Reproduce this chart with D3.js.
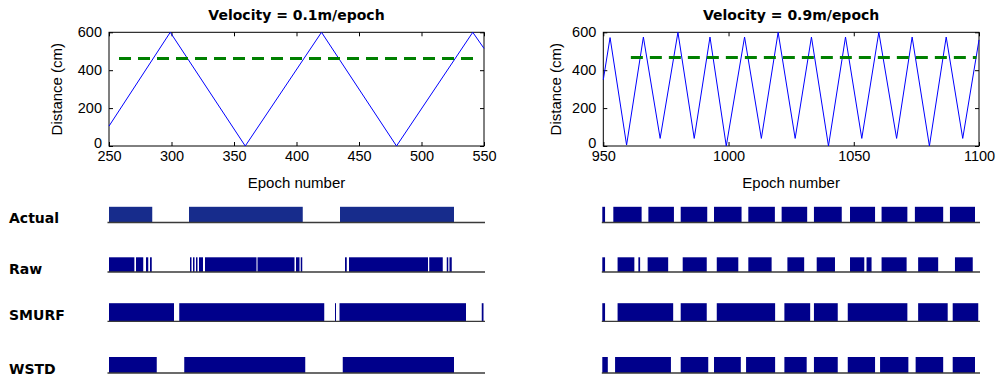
<!DOCTYPE html>
<html>
<head>
<meta charset="utf-8">
<script src="https://cdn.jsdelivr.net/npm/d3@7"></script>
<style>
  body { margin: 0; background: #fff; }
  .tick text { font-family: "Liberation Sans", Arial, sans-serif; font-size: 14.5px; fill: #000; }
  .tick line { stroke: #000; }
  .domain { display: none; }
</style>
</head>
<body>
<div id="chart-area"></div>
<script>

// ---- data ----
var slowEpochs   = [250, 299, 359, 420, 480, 541, 550];
var slowDistance = [105, 600, 0, 600, 0, 600, 515];

var fastEpochs   = [950, 952.7, 959.3, 966, 972.7, 979.8, 986.3, 992.6, 999.1, 1006.4, 1013.1, 1019.8,
                    1026.6, 1033.1, 1039.9, 1046.7, 1053.2, 1060, 1067.1, 1073.3, 1080.2, 1086.9, 1093.5, 1100];
var fastDistance = [350, 572, 5, 575, 40, 600, 40, 575, 0, 575, 40, 600,
                    40, 575, 0, 575, 40, 600, 40, 575, 0, 575, 40, 560];

// threshold (dashed green) - [start epoch, end epoch], value
var slowThreshold = [258, 545], slowThresholdValue = 462;
var fastThreshold = [961, 1099], fastThresholdValue = 467;

var distanceTicks = [0, 200, 400, 600];
var slowTicks = [250, 300, 350, 400, 450, 500, 550];
var fastTicks = [950, 1000, 1050, 1100];

var rowNames = ["Actual", "Raw", "SMURF", "WSTD"];

// state intervals [from, to] in epochs
var slowActual = [[250,284.6],[314,405],[434.8,526]];
var slowRaw = [[250,270.3],[271.6,277.4],[279.6,281.4],[282.8,284.2],[314.8,316],[317.2,318.4],[319.6,320.8],
               [322,325.2],[326.8,368],[368.8,398.4],[399.6,402.4],[403.4,404.6],[438.8,440.2],[442,505.2],
               [506.2,517],[520.2,521.4],[522.4,524.2]];
var slowSmurf = [[250,302],[306.2,422.2],[430.8,431.6],[434.4,535.6],[548.2,549.6]];
var slowWstd = [[250,288.2],[310.2,407],[437,526]];

var fastActual = [[949.6,950.7],[954,965.3],[968,978.2],[980.9,991.5],[994.2,1005.2],[1007.9,1018.5],
                  [1021.2,1031.4],[1034.1,1045.2],[1048.5,1058.5],[1061.1,1071.4],[1074.4,1085.7],[1088.4,1098.4]];
var fastRaw = [[949.6,950.7],[955.7,962.4],[964,964.7],[967.7,975.9],[981.7,991.3],[995.3,1003.9],
               [1007.9,1017.2],[1023.5,1030.2],[1035.2,1042.5],[1048.5,1054.2],[1055.1,1057.1],
               [1061.1,1071.1],[1075.7,1083.7],[1090.4,1097.5]];
var fastSmurf = [[949.6,950.7],[955.7,977.9],[980.9,991.3],[995.3,1018.6],[1022.3,1032.6],[1034.1,1043.6],
                 [1047.6,1071.4],[1075.7,1087.5],[1089.5,1099.7]];
var fastWstd = [[949.6,951.8],[954.7,977],[980.9,991.9],[994.2,1004.9],[1007,1018.6],[1022.3,1031.2],
                [1034.1,1043.6],[1047.6,1058.5],[1060.5,1071.8],[1074.7,1085.7],[1089.5,1098.4]];

// ---- layout ----
const svgWidth = 1000,
      svgHeight = 384;

var plotTop = 32.3, plotBottom = 146;

// one row band per state row: [top, baseline]
var rowBands = [[206.8, 222.5], [257.3, 272], [303.2, 321.3], [357, 373]];
var rowLabelY = [223, 274, 319.5, 374];

var svg = d3.select("#chart-area").append("svg")
    .attr("width", svgWidth)
    .attr("height", svgHeight)
    .style("font-family", "'Liberation Sans', Arial, sans-serif");

// row labels
svg.selectAll(".row-label")
    .data(rowNames)
    .enter().append("text")
    .attr("class", "row-label")
    .attr("x", 9)
    .attr("y", function(d, i){ return rowLabelY[i]; })
    .attr("font-family", "'DejaVu Sans', sans-serif")
    .attr("font-weight", "bold")
    .attr("font-size", "14px")
    .text(function(d){ return d; });

var panels = [
    { left: 109, right: 484, domain: [250, 550], ticks: slowTicks,
      epochs: slowEpochs, distance: slowDistance,
      thr: slowThreshold, thrValue: slowThresholdValue,
      title: "Velocity = 0.1m/epoch",
      rows: [slowActual, slowRaw, slowSmurf, slowWstd], ylabelX: 62 },
    { left: 603.3, right: 979, domain: [950, 1100], ticks: fastTicks,
      epochs: fastEpochs, distance: fastDistance,
      thr: fastThreshold, thrValue: fastThresholdValue,
      title: "Velocity = 0.9m/epoch",
      rows: [fastActual, fastRaw, fastSmurf, fastWstd], ylabelX: 561 }
];

panels.forEach(function(p, pi){

    var xScale = d3.scaleLinear().domain(p.domain).range([p.left, p.right]);
    var yScale = d3.scaleLinear().domain([0, 600]).range([plotBottom, plotTop]);

    var g = svg.append("g");

    // box
    g.append("rect")
        .attr("x", p.left)
        .attr("y", plotTop)
        .attr("width", p.right - p.left)
        .attr("height", plotBottom - plotTop)
        .attr("fill", "none")
        .attr("stroke", "#000")
        .attr("stroke-width", 1);

    // axes (matlab style, ticks inside on every side)
    g.append("g")
        .attr("transform", "translate(0," + plotBottom + ")")
        .call(d3.axisBottom(xScale).tickValues(p.ticks).tickFormat(d3.format("d"))
              .tickSizeInner(-4).tickSizeOuter(0).tickPadding(5));
    g.append("g")
        .attr("transform", "translate(0," + plotTop + ")")
        .call(d3.axisTop(xScale).tickValues(p.ticks).tickSizeInner(-4).tickSizeOuter(0).tickFormat(""));
    var yAxis = g.append("g")
        .attr("transform", "translate(" + p.left + ",0)")
        .call(d3.axisLeft(yScale).tickValues(distanceTicks).tickSizeInner(-4).tickSizeOuter(0).tickPadding(7));
    // lift the "0" a touch so it clears the first epoch label
    yAxis.selectAll(".tick text").filter(function(d){ return d == 0; }).attr("dy", "0.1em");
    g.append("g")
        .attr("transform", "translate(" + p.right + ",0)")
        .call(d3.axisRight(yScale).tickValues(distanceTicks).tickSizeInner(-4).tickSizeOuter(0).tickFormat(""));

    // title
    g.append("text")
        .attr("x", (p.left + p.right) / 2)
        .attr("y", 20)
        .attr("text-anchor", "middle")
        .attr("font-family", "'DejaVu Sans', sans-serif")
        .attr("font-weight", "bold")
        .attr("font-size", "14px")
        .text(p.title);

    // axis labels
    g.append("text")
        .attr("x", (p.left + p.right) / 2)
        .attr("y", 188)
        .attr("text-anchor", "middle")
        .attr("font-size", "15px")
        .text("Epoch number");

    g.append("text")
        .attr("transform", "rotate(-90)")
        .attr("x", -(plotTop + plotBottom) / 2)
        .attr("y", p.ylabelX)
        .attr("text-anchor", "middle")
        .attr("font-size", "15px")
        .text("Distance (cm)");

    // distance trace
    var line = d3.line()
        .x(function(d){ return xScale(d); })
        .y(function(d, i){ return yScale(p.distance[i]); });

    g.append("path")
        .attr("fill", "none")
        .attr("stroke", "#0000ff")
        .attr("stroke-width", 1)
        .attr("d", line(p.epochs));

    // threshold
    g.append("line")
        .attr("x1", xScale(p.thr[0]))
        .attr("x2", xScale(p.thr[1]))
        .attr("y1", yScale(p.thrValue))
        .attr("y2", yScale(p.thrValue))
        .attr("stroke", "#008000")
        .attr("stroke-width", 3)
        .attr("stroke-dasharray", "12,7");

    // state rows
    p.rows.forEach(function(segs, ri){
        var band = rowBands[ri];
        var rowY = d3.scaleLinear().domain([0, 1]).range([band[1], band[0]]);
        var fillColor = (ri == 0 && pi == 0) ? "#172c8c" : "#00008b";

        g.selectAll(".seg-" + ri)
            .data(segs)
            .enter().append("rect")
            .attr("class", "seg-" + ri)
            .attr("x", function(d){ return xScale(d[0]); })
            .attr("width", function(d){ return Math.max(xScale(d[1]) - xScale(d[0]), 0.8); })
            .attr("y", rowY(1))
            .attr("height", rowY(0) - rowY(1))
            .attr("fill", fillColor);

        g.append("line")
            .attr("x1", p.left - 1.5)
            .attr("x2", p.right + 1)
            .attr("y1", rowY(0))
            .attr("y2", rowY(0))
            .attr("stroke", "#3a3a3a")
            .attr("stroke-width", 1.3);
    });
});

</script>
</body>
</html>
